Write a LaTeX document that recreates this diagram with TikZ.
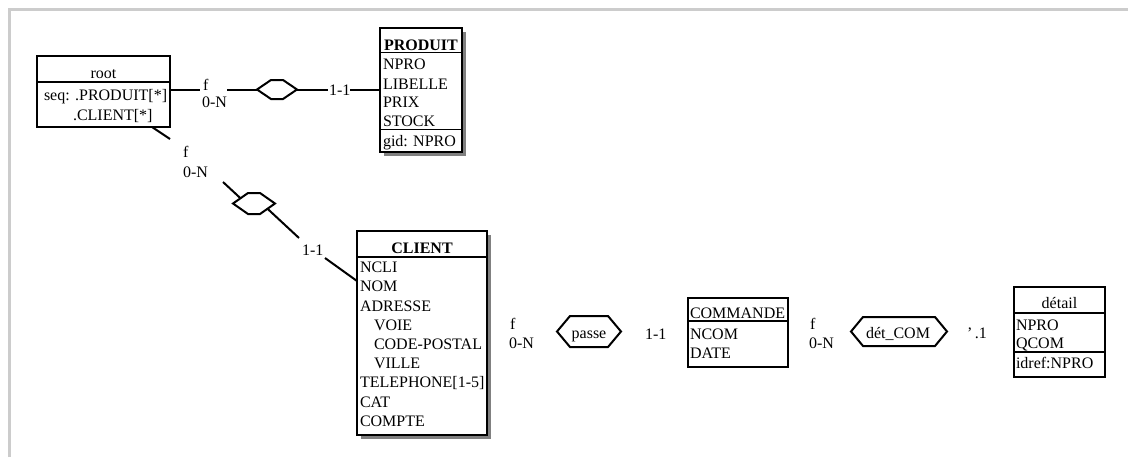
\documentclass[tikz,border=0pt]{standalone}
\usepackage{fontspec}
\setmainfont{Liberation Serif}
\usetikzlibrary{fit,calc,shadows}
\newcommand\hexshape[2]{\draw[hexline] (#1.north west) -- (#1.north east) -- ($(#1.east)+(#2,0)$) -- (#1.south east) -- (#1.south west) -- ($(#1.west)+(-#2,0)$) -- cycle;}
\begin{document}
\begin{tikzpicture}[x=0.75pt,y=-0.75pt,
  every node/.style={font=\fontsize{12}{14}\selectfont, inner sep=0pt, outer sep=0pt},
  ebox/.style={draw, line width=1.5pt, fill=white, inner sep=0pt},
  sbox/.style={ebox, drop shadow={opacity=1, shadow xshift=3pt, shadow yshift=-3pt}},
  sep/.style={line width=1pt},
  conn/.style={line width=1.5pt},
  hexline/.style={line width=1.5pt},
  hexcore/.style={inner sep=0pt},
  lbl/.style={anchor=base west},
  item/.style={anchor=base west},
  title/.style={anchor=base}]
\useasboundingbox (0,0) rectangle (1128,457);
% frame
\draw[gray!40, line width=2.25pt] (9.5,457) -- (9.5,9.5) -- (1128,9.5);

% ---------- root ----------
\node[ebox, fit={(37,56) (170,127)}] (root) {};
\draw[sep] (37,82) -- (170,82);
\node[title] (root-t) at (103.5,78) {root};
\node[item] (root-a) at (44,100) {seq: .PRODUIT[*]};
\node[item] (root-b) at (73,120) {.CLIENT[*]};

% ---------- PRODUIT ----------
\node[sbox, fit={(380,28) (462,152)}] (produit) {};
\draw[sep] (380,52.5) -- (462,52.5);
\draw[sep] (380,129.5) -- (462,129.5);
\node[title] (produit-t) at (421,50) {\textbf{PRODUIT}};
\node[item] (produit-1) at (383,69.5) {NPRO};
\node[item] (produit-2) at (383,89) {LIBELLE};
\node[item] (produit-3) at (383,107.5) {PRIX};
\node[item] (produit-4) at (383,126) {STOCK};
\node[item] (produit-5) at (383,146) {gid: NPRO};

% ---------- CLIENT ----------
\node[sbox, fit={(357,231) (487,435)}] (client) {};
\draw[sep] (357,257) -- (487,257);
\node[title] (client-t) at (422,253) {\textbf{CLIENT}};
\node[item] (client-1) at (360,272) {NCLI};
\node[item] (client-2) at (360,291) {NOM};
\node[item] (client-3) at (360,311) {ADRESSE};
\node[item] (client-4) at (374,330) {VOIE};
\node[item] (client-5) at (374,349) {CODE-POSTAL};
\node[item] (client-6) at (374,368) {VILLE};
\node[item] (client-7) at (360,387.5) {TELEPHONE[1-5]};
\node[item] (client-8) at (360,407) {CAT};
\node[item] (client-9) at (360,426) {COMPTE};

% ---------- COMMANDE ----------
\node[ebox, fit={(688,298) (788,367)}] (commande) {};
\draw[sep] (688,321) -- (788,321);
\node[item] (commande-t) at (690,318) {COMMANDE};
\node[item] (commande-1) at (690,339) {NCOM};
\node[item] (commande-2) at (690,358) {DATE};

% ---------- detail ----------
\node[ebox, fit={(1014,287) (1105,377)}] (detail) {};
\draw[sep] (1014,313) -- (1105,313);
\draw[sep] (1014,352) -- (1105,352);
\node[title] (detail-t) at (1059.5,308) {détail};
\node[item] (detail-1) at (1016,330) {NPRO};
\node[item] (detail-2) at (1016,348) {QCOM};
\node[item] (detail-3) at (1016,368) {idref:NPRO};

% ---------- relation root - PRODUIT ----------
\node[hexcore, fit={(271,80) (283,99)}] (h1) {};
\hexshape{h1}{14}
\coordinate (h1w) at ($(h1.west)+(-14,0)$);
\coordinate (h1e) at ($(h1.east)+(14,0)$);
\node[lbl] (c1f) at (203,90) {f};
\node[lbl] (c1n) at (202,107) {0-N};
\node[lbl] (c1o) at (329,95) {1-1};
\coordinate (l1a) at (200,89.5);
\coordinate (l1b) at (227,89.5);
\coordinate (l1c) at (328,89.5);
\coordinate (l1d) at (350,89.5);
\draw[conn] (root.east |- l1a) -- (l1a);
\draw[conn] (l1b) -- (h1w);
\draw[conn] (h1e) -- (l1c);
\draw[conn] (l1d) -- (produit.west |- l1d);

% ---------- relation root - CLIENT ----------
\node[hexcore, fit={(248,193) (260,214)}] (h2) {};
\hexshape{h2}{15}
\coordinate (h2w) at ($(h2.west)+(-15,0)$);
\coordinate (h2e) at ($(h2.east)+(15,0)$);
\coordinate (h2in) at ($(h2w)!0.5!(h2.north west)$);
\coordinate (h2out) at ($(h2e)!0.5!(h2.south east)$);
\node[lbl] (c2f) at (183,157) {f};
\node[lbl] (c2n) at (183,177) {0-N};
\node[lbl] (c2o) at (302,255) {1-1};
\coordinate (l2a) at ($(root.south east)+(-18,0)$);
\coordinate (l2b) at (170,139);
\coordinate (l2c) at (223,182);
\coordinate (l2d) at (299,238);
\coordinate (l2e) at (325,258);
\coordinate (l2f) at ($(client.north west)+(0,50)$);
\draw[conn] (l2a) -- (l2b);
\draw[conn] (l2c) -- (h2in);
\draw[conn] (h2out) -- (l2d);
\draw[conn] (l2e) -- (l2f);

% ---------- passe ----------
\node[hexcore, fit={(570,316) (608,347)}] (passe) {};
\hexshape{passe}{13}
\node[title] (passe-t) at (589,338) {passe};
\node[lbl] (c3f) at (510,329) {f};
\node[lbl] (c3n) at (509,348) {0-N};
\node[lbl] (c3o) at (645,339) {1-1};

% ---------- det_COM ----------
\node[hexcore, fit={(863,317) (935,346)}] (detcom) {};
\hexshape{detcom}{12}
\node[title] (detcom-t) at (898,338) {dét\_COM};
\node[lbl] (c4f) at (810,329) {f};
\node[lbl] (c4n) at (809,348) {0-N};
\node[lbl] (c4o) at (967,338) {'\,.1};
\end{tikzpicture}
\end{document}
